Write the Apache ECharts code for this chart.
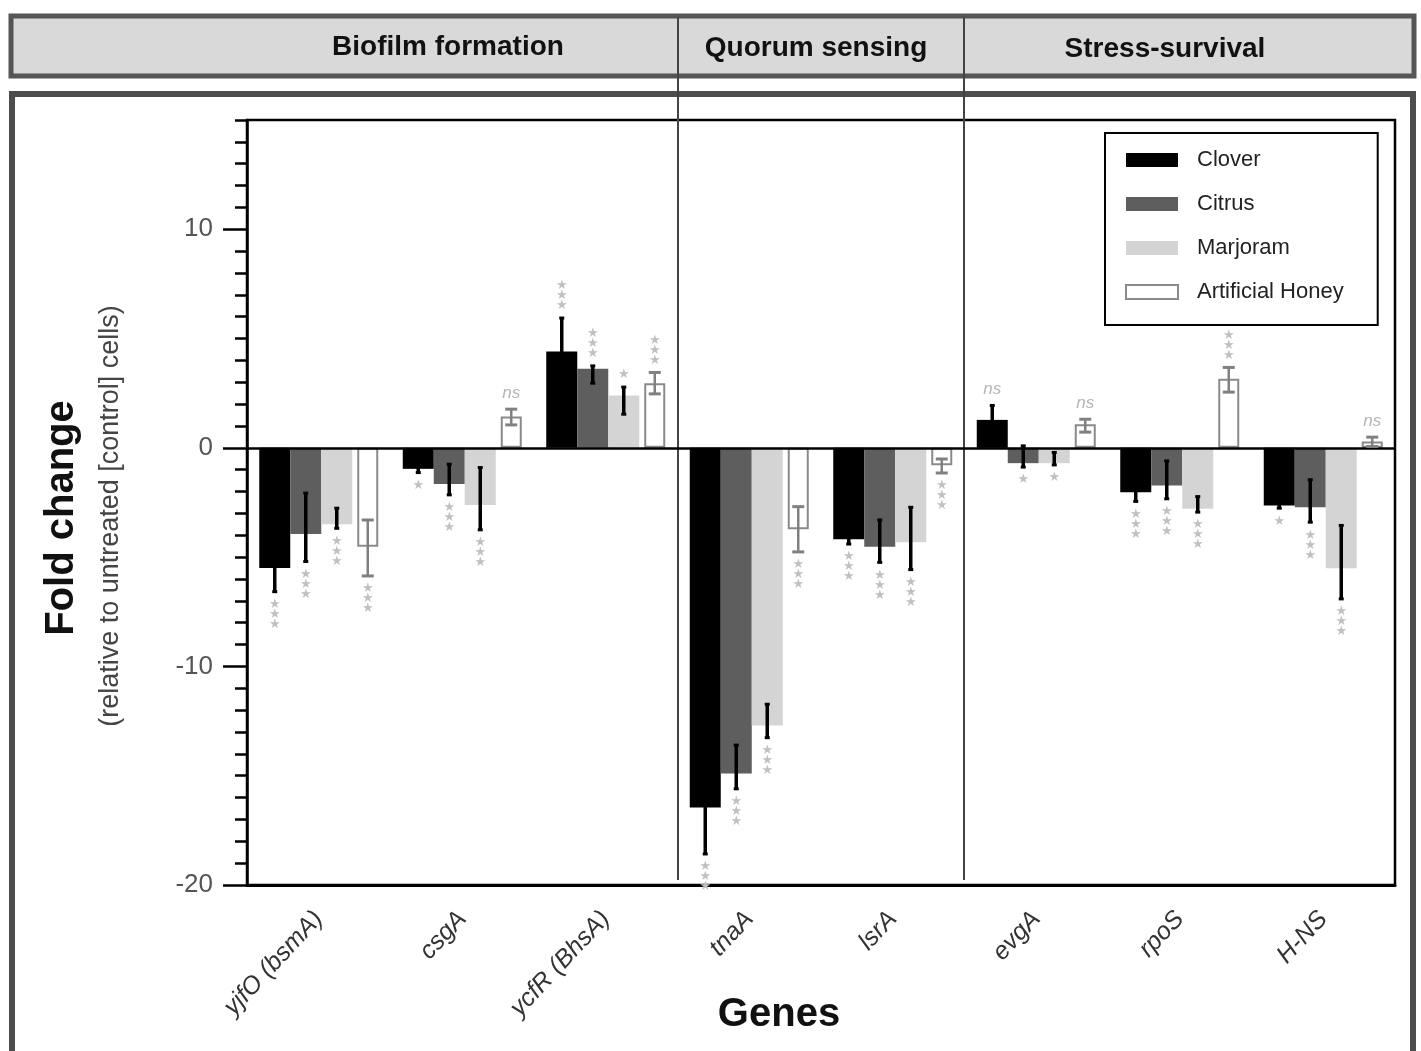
<!DOCTYPE html>
<html><head><meta charset="utf-8">
<script src="https://cdn.jsdelivr.net/npm/echarts@6/dist/echarts.min.js"></script>
<style>html,body{margin:0;padding:0;background:#fff}#c{width:1421px;height:1051px}</style>
</head><body><div id="c"></div>
<script>
// ---------- data ----------
const genes = ['yjfO (bsmA)', 'csgA', 'ycfR (BhsA)', 'tnaA', 'lsrA', 'evgA', 'rpoS', 'H-NS'];
const honeys = ['Clover', 'Citrus', 'Marjoram', 'Artificial Honey'];
const groups = ['Biofilm formation', 'Quorum sensing', 'Stress-survival'];
const yTicks = [-20, -10, 0, 10];

const cloverMean = [-5.5, -0.96, 4.41, -16.45, -4.18, 1.28, -2.03, -2.64];
const cloverLow  = [-6.58, -1.13, 2.88, -18.58, -4.4, 0.62, -2.45, -2.76];
const cloverHigh = [-4.42, -0.79, 5.94, -14.32, -3.96, 1.94, -1.61, -2.52];
const cloverSig  = ['***', '*', '***', '***', '***', 'ns', '***', '*'];

const citrusMean = [-3.94, -1.65, 3.62, -14.9, -4.52, -0.7, -1.72, -2.72];
const citrusLow  = [-5.2, -2.15, 2.96, -15.6, -5.24, -0.88, -2.33, -3.4];
const citrusHigh = [-2.07, -0.75, 3.75, -13.6, -3.3, 0.09, -0.6, -1.46];
const citrusSig  = ['***', '***', '***', '***', '***', '*', '***', '***'];

const marjoramMean = [-3.49, -2.61, 2.39, -12.7, -4.32, -0.7, -2.79, -5.51];
const marjoramLow  = [-3.68, -3.75, 1.54, -13.26, -5.57, -0.78, -2.94, -6.91];
const marjoramHigh = [-2.76, -0.9, 2.78, -11.73, -2.72, -0.21, -2.23, -3.55];
const marjoramSig  = ['***', '***', '*', '***', '***', '*', '***', '***'];

const artificialMean = [-4.52, 1.43, 2.96, -3.72, -0.8, 1.08, 3.16, 0.29];
const artificialLow  = [-5.86, 1.05, 2.47, -4.76, -1.15, 0.72, 2.55, 0.06];
const artificialHigh = [-3.3, 1.77, 3.45, -2.69, -0.51, 1.31, 3.68, 0.49];
const artificialSig  = ['***', 'ns', '***', '***', '***', 'ns', '***', 'ns'];

// ---------- styling / layout ----------
const means = [cloverMean, citrusMean, marjoramMean, artificialMean];
const lows = [cloverLow, citrusLow, marjoramLow, artificialLow];
const highs = [cloverHigh, citrusHigh, marjoramHigh, artificialHigh];
const sigs = [cloverSig, citrusSig, marjoramSig, artificialSig];
const fills = ['#000000', '#5e5e5e', '#d4d4d4', '#ffffff'];
const slotWidths = [31, 31, 31, 5, 21]; // clover, citrus, marjoram, spacer, artificial
const FONT = 'Liberation Sans, Arial, sans-serif';

// bar centre offsets (px) from category centre, same rule as ECharts bar layout with barGap 0
const total = slotWidths.reduce((a, b) => a + b, 0);
const centers = [];
let acc = -total / 2;
slotWidths.forEach(w => { centers.push(acc + w / 2); acc += w; });
const honeySlot = [0, 1, 2, 4];

const series = [];
honeys.forEach((name, si) => {
  const s = {
    type: 'bar', name, data: means[si], barWidth: slotWidths[honeySlot[si]], barGap: '0%',
    itemStyle: si === 3 ? { color: '#ffffff', borderColor: '#8a8a8a', borderWidth: 2 } : { color: fills[si] },
    silent: true, z: 2
  };
  series.push(s);
  if (si === 2) {
    series.push({ type: 'bar', name: 'spacer', data: [], barWidth: slotWidths[3], barGap: '0%', silent: true });
  }
});
series[series.length - 1].markLine = {
  silent: true, symbol: ['none', 'none'], label: { show: false },
  lineStyle: { color: '#000', width: 2.5, type: 'solid' }, data: [{ yAxis: 0 }]
};
series[series.length - 1].z = 3;

function starText(sig) {
  if (sig === 'ns') return 'ns';
  return sig.split('').map(() => '\u2605').join('\n');
}

honeys.forEach((name, si) => {
  series.push({
    type: 'custom', name: 'err-' + name, silent: true, z: 6,
    data: genes.map((g, i) => [i, lows[si][i], highs[si][i], means[si][i]]),
    encode: { x: 0, y: [1, 2] },
    renderItem(params, api) {
      const i = api.value(0);
      const x = api.coord([i, 0])[0] + centers[honeySlot[si]];
      const yLo = api.coord([i, api.value(1)])[1];
      const yHi = api.coord([i, api.value(2)])[1];
      const yBar = api.coord([i, api.value(3)])[1];
      const isAH = si === 3;
      const col = isAH ? '#808080' : '#000';
      const lw = isAH ? 2.5 : 3.5;
      const cap = isAH ? 6 : 2.5;
      const children = [
        { type: 'line', shape: { x1: x, y1: yLo, x2: x, y2: yHi }, style: { stroke: col, lineWidth: lw } },
        { type: 'line', shape: { x1: x - cap, y1: yLo, x2: x + cap, y2: yLo }, style: { stroke: col, lineWidth: 3 } },
        { type: 'line', shape: { x1: x - cap, y1: yHi, x2: x + cap, y2: yHi }, style: { stroke: col, lineWidth: 3 } }
      ];
      const sig = sigs[si][params.dataIndex];
      const neg = api.value(3) < 0;
      const isNs = sig === 'ns';
      const edge = neg ? Math.max(yLo, yHi, yBar) + 8 : Math.min(yLo, yHi, yBar) - 7;
      children.push({
        type: 'text',
        style: {
          text: starText(sig), x: x, y: edge, align: 'center', verticalAlign: neg ? 'top' : 'bottom',
          fill: isNs ? '#b5b5b5' : '#c0c0c0',
          font: isNs ? 'italic 17px ' + FONT : '13px DejaVu Sans',
          lineHeight: isNs ? 18 : 10
        }
      });
      return { type: 'group', children };
    }
  });
});

const chart = echarts.init(document.getElementById('c'), null, { renderer: 'canvas' });
chart.setOption({
  backgroundColor: '#ffffff',
  animation: false,
  grid: { left: 247, right: 26, top: 120, bottom: 166, show: true, borderColor: '#000', borderWidth: 2.5, backgroundColor: 'transparent' },
  legend: {
    data: honeys, orient: 'vertical', left: 1105, top: 133, selectedMode: false, icon: 'rect',
    itemWidth: 52, itemHeight: 14, itemGap: 22, padding: [16, 34, 22, 20],
    borderColor: '#000', borderWidth: 2, backgroundColor: '#fff',
    textStyle: { fontSize: 22, color: '#222', fontFamily: FONT, padding: [0, 0, 0, 14] }
  },
  xAxis: {
    type: 'category', data: genes,
    axisLine: { onZero: false, lineStyle: { color: '#000', width: 3 } },
    axisTick: { show: false },
    axisLabel: { rotate: 47, margin: 30, fontSize: 25, fontStyle: 'italic', color: '#333', fontFamily: FONT, interval: 0 },
    splitLine: { show: false }
  },
  yAxis: [
    {
      type: 'value', min: -20, max: 15, interval: 10, position: 'left',
      axisLine: { show: true, lineStyle: { color: '#000', width: 2.5 } },
      axisTick: { show: true, length: 24, customValues: yTicks, lineStyle: { color: '#000', width: 2.5 } },
      axisLabel: { customValues: yTicks, margin: 34, fontSize: 26, color: '#555', fontFamily: FONT },
      splitLine: { show: false }
    },
    {
      type: 'value', min: -20, max: 15, interval: 1, position: 'left',
      axisLine: { show: false },
      axisTick: { show: true, length: 12, lineStyle: { color: '#000', width: 2.5 } },
      axisLabel: { show: false },
      splitLine: { show: false }
    }
  ],
  series,
  graphic: [
    { type: 'rect', z: 0, shape: { x: 11, y: 16, width: 1403, height: 60 }, style: { fill: '#d9d9d9', stroke: '#555', lineWidth: 5 } },
    { type: 'rect', z: 0, shape: { x: 12, y: 94, width: 1401, height: 1000 }, style: { fill: 'none', stroke: '#4d4d4d', lineWidth: 6 } },
    { type: 'text', z: 5, x: 448, y: 47, style: { text: groups[0], font: 'bold 28px ' + FONT, fill: '#111', align: 'center', verticalAlign: 'middle' } },
    { type: 'text', z: 5, x: 816, y: 48, style: { text: groups[1], font: 'bold 28px ' + FONT, fill: '#111', align: 'center', verticalAlign: 'middle' } },
    { type: 'text', z: 5, x: 1165, y: 49, style: { text: groups[2], font: 'bold 28px ' + FONT, fill: '#111', align: 'center', verticalAlign: 'middle' } },
    { type: 'line', z: 5, shape: { x1: 678, y1: 17, x2: 678, y2: 880 }, style: { stroke: '#444', lineWidth: 2 } },
    { type: 'line', z: 5, shape: { x1: 964, y1: 17, x2: 964, y2: 880 }, style: { stroke: '#444', lineWidth: 2 } },
    { type: 'text', z: 5, x: 62, y: 518, rotation: Math.PI / 2, style: { text: 'Fold change', font: 'bold 40px ' + FONT, fill: '#111', align: 'center', verticalAlign: 'middle' } },
    { type: 'text', z: 5, x: 111, y: 516, rotation: Math.PI / 2, style: { text: '(relative to untreated [control] cells)', font: '27px ' + FONT, fill: '#444', align: 'center', verticalAlign: 'middle' } },
    { type: 'text', z: 5, x: 779, y: 1015, style: { text: 'Genes', font: 'bold 40px ' + FONT, fill: '#111', align: 'center', verticalAlign: 'middle' } }
  ]
});
</script></body></html>
